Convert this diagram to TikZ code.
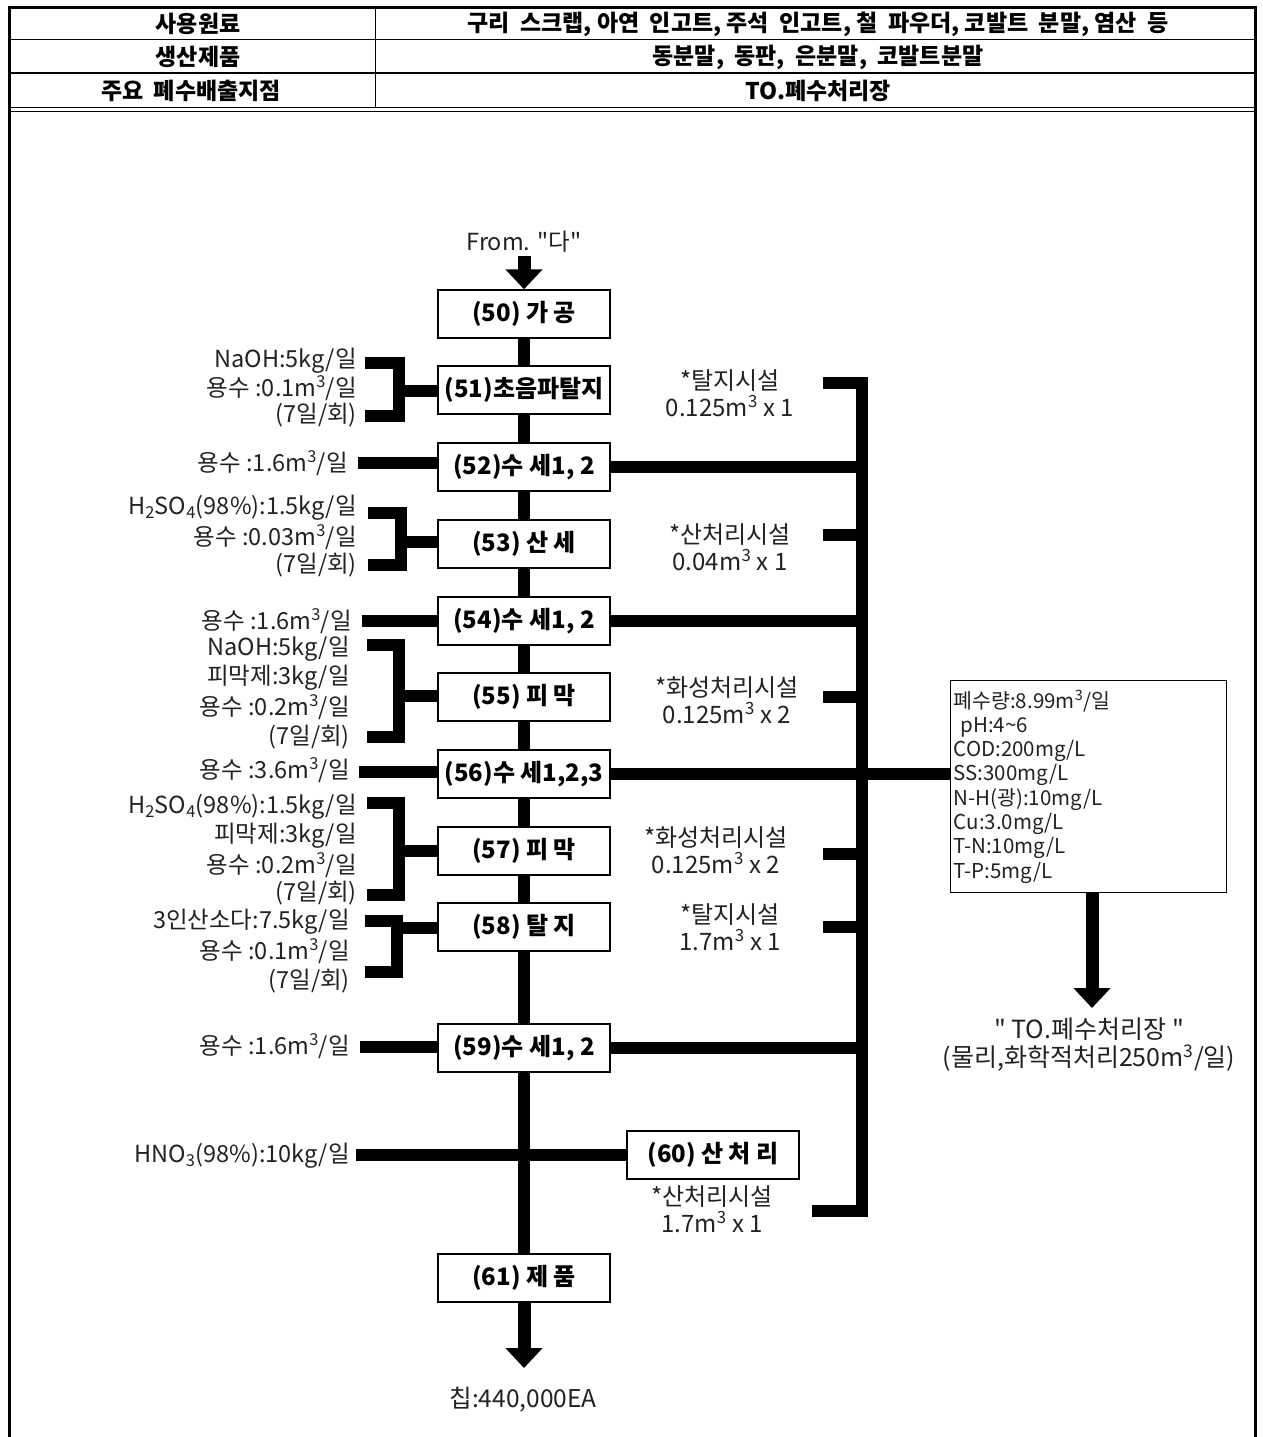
\documentclass[tikz,border=0pt]{standalone}
\usepackage{fontspec}
\setmainfont{Noto Sans CJK KR}
\usetikzlibrary{arrows.meta}
\definecolor{txt}{HTML}{222222}
\tikzset{
  proc/.style={draw, line width=1.4pt, fill=white, minimum width=172, minimum height=48, inner sep=0,
    font=\bfseries\fontsize{24}{26}\selectfont},
  pipe/.style={line width=12pt, line join=miter},
  fat/.style={line width=13pt, -{Triangle[width=36pt,length=20pt]}},
  lbl/.style={anchor=east, inner sep=0, text=txt, font=\fontsize{23.5}{26}\selectfont},
  fac/.style={align=center, inner sep=0, text=txt, font=\fontsize{24}{27}\selectfont},
  hdr/.style={inner sep=0, font=\bfseries\fontsize{23}{25}\selectfont},
  frame/.style={line width=3pt},
  rule/.style={line width=1pt}
}
\newcommand{\cub}{\textsuperscript{3}}
\newcommand{\qq}{\textquotedbl}
\begin{document}
\begin{tikzpicture}[x=1pt,y=-1pt]
\useasboundingbox (0,0) rectangle (1262,1437);
% ---- frame and header table ----
\draw[frame] (9,1437) -- (9,8) -- (1255,8) -- (1255,1437);
\draw[rule] (9,40) -- (1255,40);
\draw[rule] (9,73) -- (1255,73);
\draw[rule] (9,107) -- (1255,107);
\draw[rule] (9,111) -- (1255,111);
\draw[rule] (375,8) -- (375,107);
\node[hdr] (h1a) at (198,24) {사용원료};
\node[hdr] (h1b) at (818,24) {구리\ \ 스크랩,\ 아연\ \ 인고트,\ 주석\ \ 인고트,\ 철\ \ 파우더,\ 코발트\ \ 분말,\ 염산\ \ 등};
\node[hdr] (h2a) at (198,57) {생산제품};
\node[hdr] (h2b) at (818,57) {동분말,\ \ 동판,\ \ 은분말,\ \ 코발트분말};
\node[hdr] (h3a) at (191,91) {주요\ \ 폐수배출지점};
\node[hdr] (h3b) at (818,91) {TO.폐수처리장};
% ---- process boxes ----
\node[proc] (p50) at (524,314) {(50) 가 공};
\node[proc] (p51) at (524,390) {(51)초음파탈지};
\node[proc] (p52) at (524,467) {(52)수 세1, 2};
\node[proc] (p53) at (524,544) {(53) 산 세};
\node[proc] (p54) at (524,621) {(54)수 세1, 2};
\node[proc] (p55) at (524,697) {(55) 피 막};
\node[proc] (p56) at (524,774) {(56)수 세1,2,3};
\node[proc] (p57) at (524,851) {(57) 피 막};
\node[proc] (p58) at (524,927) {(58) 탈 지};
\node[proc] (p59) at (524,1048) {(59)수 세1, 2};
\node[proc] (p60) at (713,1155) {(60) 산 처 리};
\node[proc] (p61) at (524,1278) {(61) 제 품};
% ---- top / bottom texts ----
\node[inner sep=0, text=txt, font=\fontsize{23.5}{26}\selectfont] (from) at (524,242) {From. \qq 다\qq};
\node[inner sep=0, text=txt, font=\fontsize{24.5}{26}\selectfont] (chip) at (523,1400) {칩:440,000EA};
\coordinate (fromend) at (524,256);
\coordinate (chipend) at (524,1368);
% ---- main line ----
\draw[fat] (fromend) -- (p50.north);
\foreach \a/\b in {50/51,51/52,52/53,53/54,54/55,55/56,56/57,57/58,58/59,59/61}
  \draw[pipe] (p\a.south) -- (p\b.north);
\draw[fat] (p61.south) -- (chipend);
% ---- left labels ----
\node[lbl] (l51a) at (357,361) {NaOH:5kg/일};
\node[lbl] (l51b) at (357,388) {용수 :0.1m\cub/일};
\node[lbl] (l51c) at (357,415) {(7일/회)};
\node[lbl] (l52)  at (348,463) {용수 :1.6m\cub/일};
\node[lbl] (l53a) at (357,508) {H\textsubscript{2}SO\textsubscript{4}(98\%):1.5kg/일};
\node[lbl] (l53b) at (357,537) {용수 :0.03m\cub/일};
\node[lbl] (l53c) at (357,565) {(7일/회)};
\node[lbl] (l54)  at (352,621) {용수 :1.6m\cub/일};
\node[lbl] (l55a) at (350,649) {NaOH:5kg/일};
\node[lbl] (l55b) at (350,678) {피막제:3kg/일};
\node[lbl] (l55c) at (350,707) {용수 :0.2m\cub/일};
\node[lbl] (l55d) at (350,737) {(7일/회)};
\node[lbl] (l56)  at (350,770) {용수 :3.6m\cub/일};
\node[lbl] (l57a) at (357,807) {H\textsubscript{2}SO\textsubscript{4}(98\%):1.5kg/일};
\node[lbl] (l57b) at (357,836) {피막제:3kg/일};
\node[lbl] (l57c) at (357,865) {용수 :0.2m\cub/일};
\node[lbl] (l57d) at (357,893) {(7일/회)};
\node[lbl] (l58a) at (350,922) {3인산소다:7.5kg/일};
\node[lbl] (l58b) at (350,951) {용수 :0.1m\cub/일};
\node[lbl] (l58c) at (350,981) {(7일/회)};
\node[lbl] (l59)  at (350,1046) {용수 :1.6m\cub/일};
\node[lbl] (l60)  at (350,1156) {HNO\textsubscript{3}(98\%):10kg/일};
% ---- left brackets and feeds ----
\draw[pipe] (365,363) -- (399,363) -- (399,416) -- (365,416);
\draw[pipe] (399,391) -- (p51.west |- 0,391);
\draw[pipe] (358,463) -- (p52.west |- 0,463);
\draw[pipe] (368,513) -- (401,513) -- (401,565) -- (368,565);
\draw[pipe] (401,542) -- (p53.west |- 0,542);
\draw[pipe] (362,621) -- (p54.west |- 0,621);
\draw[pipe] (367,645) -- (399,645) -- (399,737) -- (367,737);
\draw[pipe] (399,696) -- (p55.west |- 0,696);
\draw[pipe] (359,772) -- (p56.west |- 0,772);
\draw[pipe] (367,803) -- (399,803) -- (399,895) -- (367,895);
\draw[pipe] (399,851) -- (p57.west |- 0,851);
\draw[pipe] (365,921) -- (397,921) -- (397,972) -- (365,972);
\draw[pipe] (397,928) -- (p58.west |- 0,928);
\draw[pipe] (360,1047) -- (p59.west |- 0,1047);
\draw[pipe] (356,1155) -- (p60.west);
% ---- facility labels ----
\node[fac] (f1) at (730,393) {*탈지시설\\0.125m\cub{} x 1};
\node[fac] (f2) at (730,547) {*산처리시설\\0.04m\cub{} x 1};
\node[fac] (f3) at (727,700) {*화성처리시설\\0.125m\cub{} x 2};
\node[fac] (f4) at (716,850) {*화성처리시설\\0.125m\cub{} x 2};
\node[fac] (f5) at (730,927) {*탈지시설\\1.7m\cub{} x 1};
\node[fac] (f6) at (712,1209) {*산처리시설\\1.7m\cub{} x 1};
% ---- collecting bus ----
\coordinate (busT) at (862,383);
\coordinate (busB) at (862,1211);
\draw[pipe] (823,383) -- (busT) -- (busB) -- (812,1211);
\foreach \yy in {535,697,854,927}
  \draw[pipe] (823,\yy) -- (862,\yy);
\draw[pipe] (p52.east) -- (p52.east -| busT);
\draw[pipe] (p54.east) -- (p54.east -| busT);
\draw[pipe] (p59.east) -- (p59.east -| busT);
% ---- waste water box ----
\node[draw, line width=1.4pt, anchor=north west, minimum width=276, minimum height=212,
  text width=270, align=left, inner sep=2, text=txt,
  font=\fontsize{20.5}{24.3}\selectfont] (wbox) at (950,680)
  {폐수량:8.99m\cub/일\\
   \ pH:4\textasciitilde6\\
   COD:200mg/L\\
   SS:300mg/L\\
   N-H(광):10mg/L\\
   Cu:3.0mg/L\\
   T-N:10mg/L\\
   T-P:5mg/L};
\draw[pipe] (p56.east) -- (p56.east -| wbox.west);
\node[fac, font=\fontsize{25}{28}\selectfont] (to) at (1089,1045) {\qq\ TO.폐수처리장\ \qq\\(물리,화학적처리250m\cub/일)};
\coordinate (toend) at (1092,1008);
\draw[fat] (wbox.south -| toend) -- (toend);
\end{tikzpicture}
\end{document}
